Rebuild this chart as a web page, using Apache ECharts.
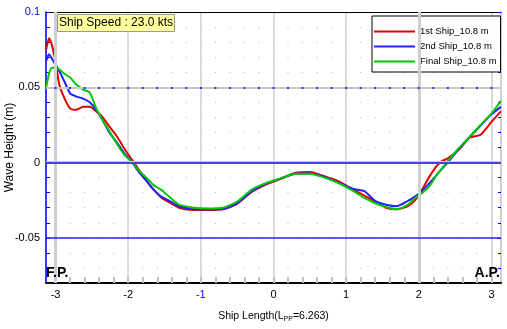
<!DOCTYPE html>
<html><head><meta charset="utf-8">
<script src="https://cdn.jsdelivr.net/npm/echarts@6/dist/echarts.min.js"></script>
<style>html,body{margin:0;padding:0;background:#fff}#c{width:507px;height:329px}</style>
</head><body><div id="c"></div>
<script>
var xs = [-3.13, -3.09, -3.05, -3.0, -2.95, -2.88, -2.8, -2.72, -2.62, -2.53, -2.44, -2.35, -2.26, -2.15, -2.05, -1.95, -1.85, -1.75, -1.65, -1.55, -1.45, -1.3, -1.1, -0.9, -0.7, -0.5, -0.3, -0.1, 0.1, 0.3, 0.5, 0.7, 0.9, 1.1, 1.25, 1.4, 1.55, 1.7, 1.85, 1.95, 2.05, 2.15, 2.25, 2.32, 2.4, 2.55, 2.7, 2.85, 3.0, 3.13];
var ship1 = [0.075, 0.0825, 0.078, 0.067, 0.052, 0.043, 0.036, 0.035, 0.037, 0.037, 0.034, 0.030, 0.024, 0.017, 0.009, 0.002, -0.005, -0.012, -0.018, -0.023, -0.026, -0.030, -0.0315, -0.0315, -0.031, -0.0275, -0.0195, -0.0145, -0.0108, -0.0068, -0.0062, -0.009, -0.0125, -0.018, -0.022, -0.026, -0.030, -0.031, -0.029, -0.025, -0.0175, -0.009, -0.002, 0.001, 0.0028, 0.0085, 0.0165, 0.0185, 0.027, 0.034];
var ship2 = [0.0675, 0.072, 0.069, 0.065, 0.061, 0.054, 0.046, 0.044, 0.0425, 0.040, 0.035, 0.028, 0.020, 0.013, 0.006, 0.0005, -0.0065, -0.012, -0.018, -0.0225, -0.025, -0.029, -0.031, -0.031, -0.031, -0.027, -0.019, -0.014, -0.0105, -0.0075, -0.0072, -0.0095, -0.0135, -0.0175, -0.019, -0.0255, -0.028, -0.029, -0.0255, -0.0225, -0.0185, -0.0135, -0.008, -0.004, 0.0, 0.009, 0.017, 0.0245, 0.032, 0.037];
var shipFinal = [0.050, 0.059, 0.063, 0.063, 0.062, 0.059, 0.0565, 0.052, 0.0485, 0.0465, 0.036, 0.028, 0.021, 0.012, 0.005, 0.0005, -0.0055, -0.010, -0.015, -0.018, -0.022, -0.028, -0.030, -0.0305, -0.030, -0.026, -0.018, -0.0135, -0.0105, -0.0075, -0.0075, -0.010, -0.0138, -0.019, -0.0235, -0.027, -0.0295, -0.031, -0.028, -0.0235, -0.020, -0.0155, -0.008, -0.004, 0.001, 0.0095, 0.0171, 0.025, 0.0325, 0.041];
var seriesNames = ['1st Ship_10.8 m', '2nd Ship_10.8 m', 'Final Ship_10.8 m'];
var seriesColors = ['#e00000', '#2222ff', '#00c800'];
var xMinorTicks = [-3.0,-2.8,-2.6,-2.4,-2.2,-2.0,-1.8,-1.6,-1.4,-1.2,-1.0,-0.8,-0.6,-0.4,-0.2,0,0.2,0.4,0.6,0.8,1.0,1.2,1.4,1.6,1.8,2.0,2.2,2.4,2.6,2.8,3.0];
var halfL = 3.1315;

var FONT = "'Liberation Sans', Arial, sans-serif";
function pairs(ys){ return xs.map(function(x,i){ return [x, ys[i]]; }); }

var chart = echarts.init(document.getElementById('c'), null, {renderer:'canvas'});
var option = {
  animation: false,
  backgroundColor: '#fff',
  title: [
    {text: 'Ship Speed : 23.0 kts', left: 57, top: 14, padding: [3, 2, 3, 2], backgroundColor: '#ffffa0', borderColor: '#999', borderWidth: 1,
     textStyle: {fontFamily: FONT, fontSize: 12, fontWeight: 'normal', color: '#000'}},
    {text: 'F.P.', left: 46, top: 266, padding: 0, textStyle: {fontFamily: FONT, fontSize: 14, fontWeight: 'bold', color: '#000'}},
    {text: 'A.P.', right: 7, top: 266, padding: 0, textStyle: {fontFamily: FONT, fontSize: 14, fontWeight: 'bold', color: '#000'}}
  ],
  legend: {
    data: seriesNames, orient: 'vertical', left: 372, top: 16,
    borderColor: '#000', borderWidth: 1, backgroundColor: '#fff', borderRadius: 0,
    padding: [9, 4, 4, 2], itemGap: 2, itemWidth: 41, itemHeight: 2, icon: 'rect',
    textStyle: {fontFamily: FONT, fontSize: 9.5, lineHeight: 13, color: '#000'}
  },
  grid: {left: 46, right: 6, top: 12, bottom: 46, outerBoundsMode: 'none', containLabel: false},
  xAxis: [
    {type: 'value', min: -halfL, max: halfL, splitNumber: 6, position: 'bottom',
     name: 'Ship Length(L{s|PP}=6.263)', nameLocation: 'middle', nameGap: 27, nameMoveOverlap: false,
     nameTextStyle: {fontFamily: FONT, fontSize: 10.5, color: '#000', rich: {s: {fontFamily: FONT, fontSize: 7, padding: [6, 0, 0, 0], color: '#000'}}},
     axisLine: {show: true, onZero: false, lineStyle: {color: '#000', width: 2}},
     axisTick: {show: false},
     axisLabel: {showMinLabel: false, showMaxLabel: false, margin: 6, fontFamily: FONT, fontSize: 11, color: '#000',
       formatter: function(v){ return Math.abs(v + 1) < 1e-9 ? '{b|-1}' : String(Math.round(v)); },
       rich: {b: {color: '#0000ff', fontFamily: FONT, fontSize: 11}}},
     splitLine: {show: true, lineStyle: {color: '#cfcfcf', width: 1.5}}},
    {type: 'value', min: -halfL, max: halfL, position: 'top',
     axisLine: {show: true, onZero: false, lineStyle: {color: '#000', width: 1}},
     axisTick: {show: false}, axisLabel: {show: false}, splitLine: {show: false}},
    {type: 'value', min: -halfL, max: halfL, position: 'bottom',
     axisLine: {show: false, onZero: false}, axisLabel: {show: false}, splitLine: {show: false},
     axisTick: {show: true, inside: true, length: 6, customValues: xMinorTicks, lineStyle: {color: '#c0c0c0', width: 2}}}
  ],
  yAxis: [
    {type: 'value', min: -0.08, max: 0.1, interval: 0.01, position: 'left',
     name: 'Wave Height (m)', nameLocation: 'middle', nameGap: 30, nameMoveOverlap: false,
     nameTextStyle: {fontFamily: FONT, fontSize: 12, color: '#000'},
     axisLine: {show: true, onZero: false, lineStyle: {color: '#0000ff', width: 1.5}},
     axisTick: {show: true, inside: true, length: 4, lineStyle: {color: '#0000ff', width: 1}},
     axisLabel: {margin: 6, fontFamily: FONT, fontSize: 11, color: '#000',
       formatter: function(v){ var k = Math.round(v * 100); if (k % 5 !== 0) return ''; if (k === 10) return '{b|0.1}'; return String(k / 100); },
       rich: {b: {color: '#0000ff', fontFamily: FONT, fontSize: 11}}},
     splitLine: {show: true, lineStyle: {color: '#b4b4b4', width: 1, type: [1, 13.53], dashOffset: 5.48}}},
    {type: 'value', min: -0.08, max: 0.1, interval: 0.01, position: 'right',
     axisLine: {show: true, onZero: false, lineStyle: {color: '#cfcfcf', width: 2}},
     axisTick: {show: true, inside: true, length: 3, lineStyle: {color: '#0000ff', width: 1}},
     axisLabel: {show: false}, splitLine: {show: false}}
  ],
  series: [
    {type: 'line', name: '_grid', data: [], silent: true,
     markLine: {silent: true, symbol: ['none', 'none'], label: {show: false}, animation: false,
       data: [
         {xAxis: -3, lineStyle: {color: '#cfcfcf', width: 3, type: 'solid'}},
         {xAxis: 2, lineStyle: {color: '#cfcfcf', width: 3, type: 'solid'}},
         {yAxis: 0.05, lineStyle: {color: '#c8c8c8', width: 2, type: 'solid'}},
         {yAxis: 0.05, lineStyle: {color: '#2a2aff', width: 2, type: [2, 12.53], dashOffset: 5.98}},
         {yAxis: 0, lineStyle: {color: '#c8c8c8', width: 3, type: 'solid'}},
         {yAxis: 0, lineStyle: {color: '#1a1ae0', width: 1.5, type: 'solid'}},
         {yAxis: -0.05, lineStyle: {color: '#2020ff', width: 1.5, type: 'solid'}}
       ]}},
    {type: 'line', name: seriesNames[0], data: pairs(ship1), showSymbol: false, symbol: 'none', smooth: 0.2,
     itemStyle: {color: seriesColors[0]}, lineStyle: {color: seriesColors[0], width: 2}},
    {type: 'line', name: seriesNames[1], data: pairs(ship2), showSymbol: false, symbol: 'none', smooth: 0.2,
     itemStyle: {color: seriesColors[1]}, lineStyle: {color: seriesColors[1], width: 2}},
    {type: 'line', name: seriesNames[2], data: pairs(shipFinal), showSymbol: false, symbol: 'none', smooth: 0.2,
     itemStyle: {color: seriesColors[2]}, lineStyle: {color: seriesColors[2], width: 2}}
  ]
};
chart.setOption(option);
</script>
</body></html>
